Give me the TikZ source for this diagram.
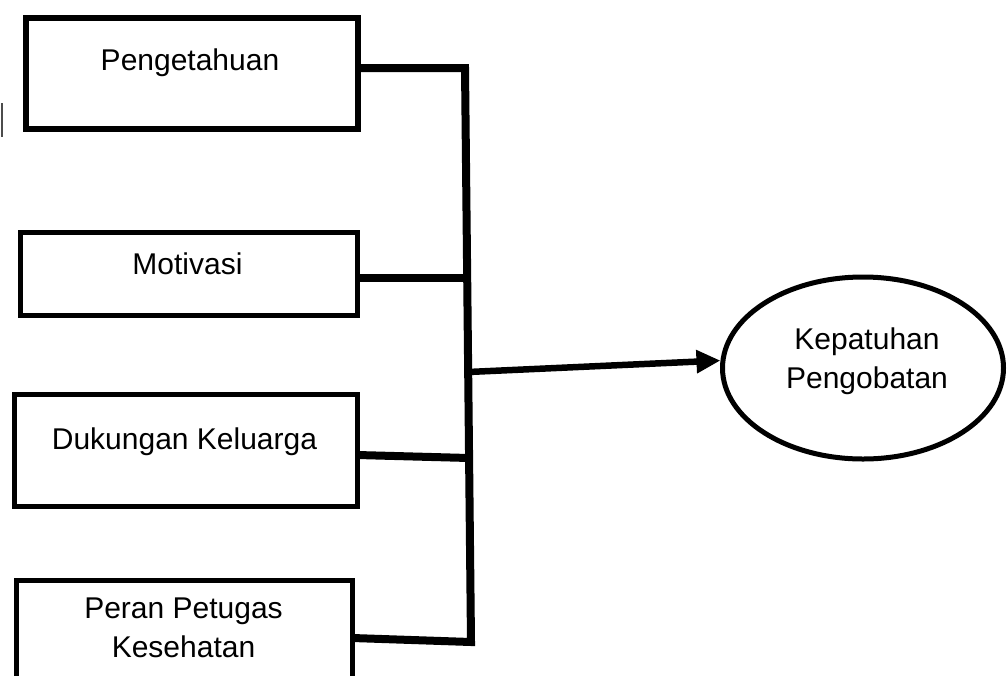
\documentclass[tikz,border=0pt]{standalone}
\usepackage{fontspec}
\setmainfont{Liberation Sans}
\usetikzlibrary{arrows.meta,shapes.geometric}
\begin{document}
\begin{tikzpicture}[x=1pt,y=-1pt,
  box/.style={draw, line width=5.5pt, rectangle, inner sep=0pt, outer sep=0pt},
  lbl/.style={font=\fontsize{30}{39}\selectfont, align=center, inner sep=0pt, anchor=base},
  conn/.style={line width=8pt},
  arr/.style={line width=6.5pt, -{Triangle[length=24pt,width=22pt]}},
]
\useasboundingbox (0,0) rectangle (1008,675);
\clip (0,0) rectangle (1008,675);

% stray mark at left edge
\draw[line width=2.5pt, black!70] (2,103) -- (2,137);

% boxes
\node[box, minimum width=332pt, minimum height=111pt] (b1) at (192,73.5) {};
\node[box, minimum width=337pt, minimum height=83pt]  (b2) at (189,274) {};
\node[box, minimum width=343pt, minimum height=112pt] (b3) at (186,450.5) {};
\node[box, minimum width=336pt, minimum height=140pt] (b4) at (184.5,650.5) {};

% box labels
\node[lbl] (t1) at (190,70) {Pengetahuan};
\node[lbl] (t2) at (187.5,274) {Motivasi};
\node[lbl] (t3) at (184.5,449) {Dukungan Keluarga};
\node[lbl] (t4) at (183.5,657) {Peran Petugas\\Kesehatan};

% outcome ellipse
\node[ellipse, draw, line width=5pt, minimum width=281pt, minimum height=182pt, inner sep=0pt] (ell) at (863,368) {};
\node[lbl] (t5) at (867,388) {Kepatuhan\\Pengobatan};

% bus junctions
\coordinate (j1) at (465,68);
\coordinate (j2) at (467.2,278);
\coordinate (ja) at (468.2,372);
\coordinate (j3) at (469.1,458);
\coordinate (j4) at (471,642);

% connectors
\draw[conn] (b1.east |- j1) -- (j1) -- (j4) -- (b4.east |- 0,638);
\draw[conn] (b2.east |- j2) -- (j2);
\draw[conn] (b3.east |- 0,455) -- (j3);
\draw[arr] (ja) -- (ell.177);
\end{tikzpicture}
\end{document}
